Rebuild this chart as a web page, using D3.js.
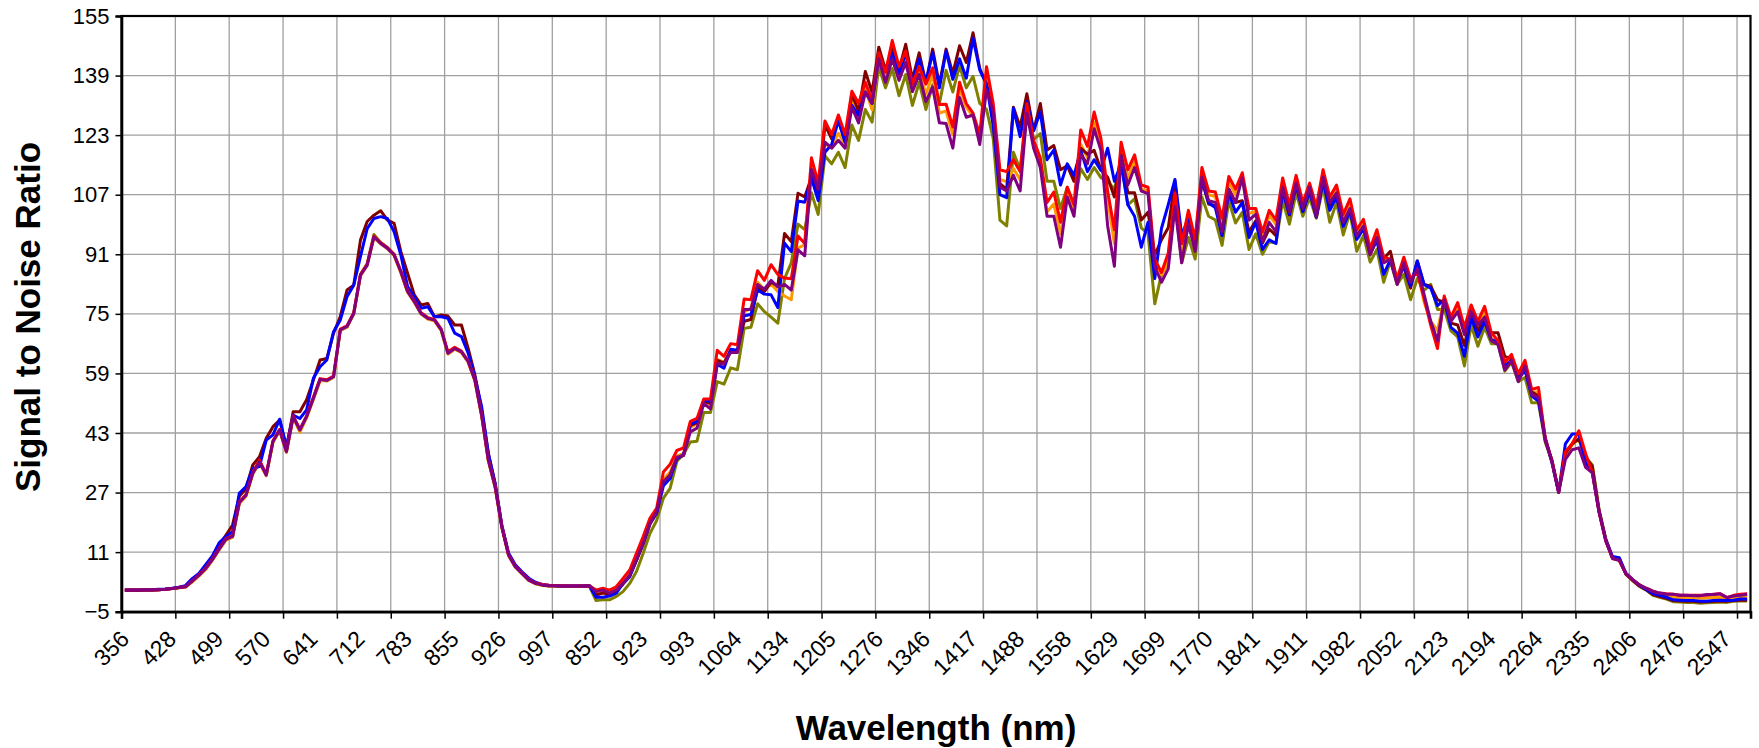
<!DOCTYPE html>
<html>
<head>
<meta charset="utf-8">
<script src="https://cdn.jsdelivr.net/npm/d3@7"></script>
<style>
  html, body { margin: 0; padding: 0; background: #fff; }
  svg { display: block; }
  text { font-family: "Liberation Sans", Arial, sans-serif; fill: #000; }
</style>
</head>
<body>
<svg id="chart" width="1759" height="748"></svg>
<script>
// ---------------- DATA ----------------
const bandCount = 242;           // Hyperion bands: 70 VNIR + 172 SWIR
const labelEvery = 7;            // a wavelength label every 7 bands
const gridEvery = 8;             // a tick / gridline every 8 bands
const tickLabels = ["356","428","499","570","641","712","783","855","926","997",
  "852","923","993","1064","1134","1205","1276","1346","1417","1488","1558","1629",
  "1699","1770","1841","1911","1982","2052","2123","2194","2264","2335","2406","2476","2547"];
const yTicks = [-5, 11, 27, 43, 59, 75, 91, 107, 123, 139, 155];

const olive = [0.8,0.8,0.8,0.8,0.8,0.9,1.0,1.2,1.4,1.6,3.0,4.6,6.4,8.9,11.7,14.3,15.1,24.2,26.2,32.1,
35.1,31.6,40.6,43.7,37.9,47.3,43.5,47.3,52.2,57.3,57.0,58.0,70.6,71.5,75.0,85.5,88.5,96.3,94.2,92.8,
90.9,86.2,80.9,78.2,75.0,73.7,73.2,70.6,64.3,65.6,64.7,62.1,57.1,47.7,35.6,28.5,17.7,10.1,7.0,5.2,
3.4,2.5,2.1,1.9,1.9,1.8,1.8,1.8,1.8,1.9,
-2.0,-1.8,-1.8,-0.9,0.4,2.6,5.8,10.7,16.0,19.5,
25.5,28.1,35.4,37.3,40.6,40.8,48.5,48.5,56.8,56.1,
60.5,60.0,71.1,71.4,77.7,75.6,74.1,72.5,84.5,88.7,
99.1,97.6,107.5,101.7,117.4,115.3,118.4,114.3,125.7,121.6,
129.9,126.5,141.4,135.7,140.9,133.6,139.3,131.0,137.2,129.9,
136.5,131.5,140.4,134.6,141.7,135.7,138.8,131.5,129.9,122.1,
100.2,98.6,118.4,113.7,128.4,121.8,123.4,110.6,110.6,103.3,
109.0,104.3,114.0,111.1,114.3,111.6,110.6,108.5,115.8,104.3,
105.9,98.1,96.5,77.7,85.6,88.7,105.3,88.7,95.5,89.7,
106.4,101.2,100.2,93.4,105.4,99.4,102.3,92.3,96.5,91.0,
94.4,94.0,105.4,99.1,107.5,101.2,106.2,100.7,109.0,99.6,
104.9,96.2,102.3,91.8,96.0,88.9,92.3,83.5,89.2,82.9,
85.6,78.8,84.5,81.3,82.9,76.2,76.2,70.4,68.8,61.0,
72.0,66.3,71.4,67.0,67.0,59.6,62.0,56.8,57.9,51.1,
51.1,40.6,35.4,27.3,37.0,40.2,41.2,36.5,34.4,22.5,
14.6,9.5,9.4,5.0,3.3,1.8,0.8,-0.6,-1.1,-1.6,
-2.3,-2.4,-2.5,-2.5,-2.7,-2.6,-2.5,-2.4,-2.5,-2.2,
-2.1,-2.1];

const orange = [0.8,0.8,0.8,0.8,0.8,0.9,1.0,1.2,1.4,1.6,3.0,4.6,6.4,8.8,11.6,14.2,15.0,24.0,26.0,32.0,
35.0,31.5,40.5,43.6,37.8,47.2,43.2,47.2,52.0,57.0,57.0,58.0,70.5,71.4,75.0,85.2,88.0,95.5,93.8,92.5,
90.6,86.0,80.8,78.1,75.0,73.6,73.1,70.5,64.2,65.5,64.6,62.0,57.0,47.6,35.5,28.4,17.7,10.1,7.0,5.2,
3.4,2.5,2.1,1.9,1.9,1.8,1.8,1.8,1.8,1.9,
0.0,0.5,0.2,1.0,2.8,5.0,9.0,13.5,18.8,22.0,
30.5,32.5,36.8,37.5,44.5,45.5,51.2,50.8,62.8,62.0,
65.0,64.8,75.5,76.5,83.5,81.5,83.0,81.0,79.8,78.8,
92.7,93.5,114.0,108.0,120.5,120.0,123.5,120.5,132.5,128.0,
135.5,129.8,144.5,139.0,146.6,140.0,144.0,136.0,140.0,134.0,
139.3,128.9,129.5,123.1,135.5,130.5,128.0,122.0,138.3,130.0,
111.1,110.5,114.0,111.0,130.0,120.5,116.0,102.4,104.5,96.5,
107.5,103.0,120.5,117.0,126.5,120.5,105.8,93.9,119.9,111.5,
116.0,108.5,108.0,88.5,85.5,89.0,106.0,91.5,101.0,93.0,
113.0,107.0,106.5,99.0,110.5,107.0,112.0,102.0,102.5,96.0,
101.5,99.0,110.5,103.5,111.0,104.0,109.5,102.5,112.5,105.5,
108.5,100.5,104.5,96.5,99.5,92.0,96.5,89.5,90.0,84.0,
89.5,84.0,87.0,78.2,73.0,70.5,79.0,73.5,76.5,70.0,
76.5,72.5,75.5,68.5,67.0,61.0,63.0,58.0,61.5,54.0,
54.0,41.5,35.4,27.1,37.0,39.8,41.5,36.0,33.0,21.9,
14.2,9.4,8.9,5.1,3.5,2.0,1.0,0.1,-0.4,-0.8,
-1.1,-1.2,-1.3,-1.3,-1.4,-1.3,-1.2,-1.1,-1.5,-1.2,
-1.0,-1.0];

const maroon = [0.7,0.7,0.7,0.8,0.8,0.9,1.0,1.2,1.5,1.8,3.5,5.0,7.0,9.6,12.8,15.5,18.3,26.0,28.1,34.4,
36.6,41.6,44.7,46.5,38.9,48.7,48.7,51.9,57.2,62.6,63.0,69.8,74.3,81.4,82.7,94.8,99.8,101.5,102.7,100.2,
99.3,91.7,85.9,80.1,77.4,77.8,74.2,74.7,74.4,72.0,72.0,65.7,58.6,49.2,37.5,29.5,18.0,10.5,7.3,5.4,
3.6,2.7,2.2,2.0,2.0,1.9,1.9,1.9,1.9,2.0,
-0.5,0.0,-0.3,0.5,2.4,4.6,8.8,13.2,18.5,21.5,
29.5,31.8,36.2,37.0,45.0,45.8,51.5,51.0,62.5,61.8,
65.2,65.0,73.0,73.5,82.0,81.0,83.5,82.5,96.6,94.4,
107.4,106.4,111.7,106.5,125.8,122.0,127.0,121.5,134.0,129.5,
140.1,134.5,146.6,140.5,146.0,140.5,147.4,138.0,145.1,137.0,
146.1,136.5,146.1,139.5,147.0,142.5,150.5,140.9,136.7,128.8,
110.0,108.5,130.5,125.2,134.1,124.2,131.5,119.0,120.2,113.7,
114.8,110.6,119.5,117.9,118.9,113.7,111.7,106.4,117.9,107.5,
107.5,100.2,102.3,90.8,94.9,98.1,110.6,93.9,101.8,92.5,
111.0,104.5,104.0,96.5,108.5,104.9,105.4,97.0,100.0,94.0,
97.8,96.0,108.5,101.5,109.5,102.5,108.0,101.0,111.0,104.0,
107.0,99.0,103.0,95.5,98.0,91.0,95.0,89.8,91.8,84.0,
87.6,81.9,89.2,82.9,82.4,78.8,78.0,72.5,72.0,66.5,
75.0,70.5,74.0,69.9,69.9,63.5,63.0,57.5,60.5,54.0,
53.0,41.0,35.8,27.2,37.5,40.0,41.5,36.5,34.0,22.2,
14.4,9.4,9.0,5.1,3.4,1.9,0.9,-0.4,-0.9,-1.4,
-2.0,-2.1,-2.2,-2.2,-2.4,-2.3,-2.2,-2.1,-2.2,-2.0,
-1.9,-1.9];

const blue = [0.8,0.8,0.8,0.9,0.9,1.0,1.1,1.3,1.6,2.0,3.9,5.3,7.6,10.0,13.5,15.2,16.5,26.8,28.6,33.5,
34.0,41.1,42.5,46.7,39.3,47.8,46.9,49.2,57.7,60.8,62.6,70.2,73.3,79.6,82.7,90.4,97.9,100.6,101.1,100.6,
97.0,90.8,82.3,79.6,76.5,76.9,74.2,74.2,73.8,69.8,68.9,64.4,58.1,50.1,37.5,29.5,18.2,10.8,7.6,5.7,
4.0,2.9,2.3,2.1,2.0,1.9,1.9,1.9,1.9,2.0,
-1.1,-1.1,-0.8,0.0,2.6,4.4,8.9,13.4,18.7,21.5,
28.8,30.8,36.0,37.2,45.3,46.2,51.8,51.5,61.5,60.4,
65.5,65.2,74.5,74.8,81.4,80.3,80.1,76.7,94.0,91.7,
105.3,105.0,111.5,105.4,118.4,120.5,126.9,121.0,131.0,128.3,
134.6,131.5,144.0,140.4,145.0,139.5,144.9,137.5,143.5,137.3,
145.2,135.7,145.6,138.0,143.5,138.3,149.0,140.5,136.7,125.5,
107.0,106.2,130.2,122.6,132.0,124.2,129.2,116.4,119.0,109.6,
115.3,112.2,118.9,113.2,116.4,113.5,119.5,110.6,115.3,104.3,
101.2,92.9,99.6,84.5,98.0,104.3,111.1,96.1,100.7,94.4,
111.1,104.9,103.5,96.0,107.5,102.3,104.9,95.5,99.6,92.3,
94.9,93.9,107.9,101.7,109.6,102.5,108.0,101.0,110.6,102.8,
106.5,98.5,102.5,95.0,97.8,91.3,94.8,85.6,89.5,83.5,
88.0,82.5,89.2,82.9,81.9,77.2,78.8,71.4,69.8,63.6,
74.1,68.8,73.0,68.0,67.5,61.0,62.5,57.5,59.8,53.0,
51.5,41.5,35.0,27.0,40.1,42.7,42.7,35.0,32.5,21.9,
14.3,9.8,9.5,5.3,3.6,2.1,1.0,-0.1,-0.6,-1.1,
-1.8,-1.9,-2.0,-2.0,-2.2,-2.2,-2.0,-1.9,-2.0,-1.9,
-1.6,-1.6];

const red = [0.8,0.8,0.8,0.8,0.8,0.9,1.0,1.2,1.5,1.7,3.3,4.9,6.7,9.2,12.0,14.6,15.4,24.5,26.5,32.4,
35.7,31.9,40.9,44.0,38.2,47.6,44.0,47.6,52.6,57.6,57.3,58.3,70.9,71.8,75.3,85.6,88.3,95.9,94.1,92.8,
91.0,86.5,81.2,78.5,75.3,74.0,73.5,70.9,64.8,66.0,65.0,62.4,57.4,48.0,35.9,28.8,18.0,10.3,7.2,5.4,
3.6,2.7,2.3,2.1,2.0,2.0,1.9,1.9,1.9,2.0,
0.8,1.3,0.8,1.7,3.9,6.2,10.7,15.2,20.1,22.8,
32.5,34.6,38.3,39.0,46.1,46.9,52.1,52.1,65.2,63.6,
67.0,66.7,79.0,78.8,86.6,84.0,88.2,85.6,84.6,84.4,
95.9,93.9,116.9,110.1,126.8,123.2,128.4,123.2,134.8,131.5,
137.2,132.3,145.1,139.9,148.4,141.4,145.6,136.7,141.4,136.7,
141.1,131.2,131.3,125.2,137.2,131.5,128.9,123.2,141.4,131.5,
113.7,113.2,116.4,113.2,131.5,121.6,116.9,104.9,107.7,99.6,
109.0,104.3,124.4,120.0,129.2,122.1,107.9,97.6,121.1,113.7,
117.7,109.6,109.0,89.7,86.1,91.3,107.5,93.9,102.8,95.0,
114.3,108.0,107.7,100.7,111.9,108.5,112.9,103.3,103.3,97.0,
102.8,100.2,111.5,104.3,112.2,104.9,110.1,103.8,113.7,106.4,
109.6,101.7,105.9,97.6,100.4,92.6,97.6,90.2,89.7,84.5,
90.2,84.5,86.1,79.3,71.9,65.7,79.8,74.1,78.0,71.4,
77.4,73.0,77.0,69.9,67.8,62.0,64.1,58.9,62.5,54.7,
55.2,41.7,35.4,27.1,38.0,40.1,43.6,37.5,32.3,21.8,
14.0,9.3,8.8,5.2,3.6,2.2,1.3,0.5,0.0,-0.2,
-0.3,-0.6,-0.6,-0.6,-0.6,-0.6,-0.3,-0.2,-1.2,-0.6,
-0.3,-0.2];

const purple = [0.8,0.8,0.8,0.8,0.8,0.9,1.0,1.2,1.5,1.7,3.2,4.8,6.6,9.0,11.8,14.4,15.2,24.3,26.3,32.2,
35.3,31.7,40.7,43.8,38.0,47.4,43.8,47.4,52.3,57.4,57.1,58.1,70.7,71.6,75.1,85.4,88.1,95.7,93.9,92.6,
90.8,86.3,81.0,78.3,75.1,73.8,73.3,70.7,64.4,65.7,64.8,62.2,57.2,47.8,35.7,28.6,17.8,10.2,7.1,5.3,
3.5,2.6,2.2,2.0,2.0,1.9,1.9,1.9,1.9,2.0,
0.4,0.8,0.0,0.8,2.6,4.8,8.9,13.4,18.7,21.9,
30.0,31.6,36.5,37.0,43.3,44.3,50.9,49.5,61.5,61.5,
64.6,64.6,76.2,76.2,82.9,81.6,84.0,82.2,82.9,81.4,
92.2,90.6,113.8,108.5,121.1,119.5,121.6,119.5,130.5,126.3,
134.6,131.6,143.5,137.2,143.5,137.7,142.5,134.7,139.3,132.0,
135.9,126.3,126.1,119.5,133.1,127.8,128.4,120.5,135.2,129.4,
109.0,108.0,112.2,108.0,128.9,119.5,114.3,101.2,101.2,92.9,
106.4,101.2,117.9,115.3,124.7,118.9,98.6,87.8,117.4,109.6,
114.3,108.0,107.3,87.6,83.5,87.1,103.8,88.7,99.1,91.8,
111.7,105.4,104.9,97.0,108.5,104.9,111.5,100.2,101.7,94.4,
99.6,97.0,109.0,102.3,110.1,103.3,109.0,101.2,111.7,104.9,
107.5,99.6,103.3,96.0,98.6,90.8,95.5,88.7,89.7,82.9,
88.7,83.5,87.1,80.3,73.0,67.8,78.8,73.0,75.6,69.4,
75.6,72.0,74.1,67.8,66.7,59.9,62.5,56.8,61.0,53.2,
52.6,41.7,35.4,27.1,35.9,38.5,39.0,33.8,32.3,21.8,
14.0,9.3,8.8,5.2,3.6,2.2,1.3,0.5,0.0,-0.3,
-0.3,-0.6,-0.6,-0.7,-0.7,-0.4,-0.4,-0.2,-1.2,-0.8,
-0.6,-0.3];

const seriesNames = ["olive", "orange", "maroon", "blue", "red", "purple"];
const seriesColors = ["#808000", "#FF9900", "#800000", "#0000FF", "#FF0000", "#800080"];
const seriesValues = [olive, orange, maroon, blue, red, purple];

// ---------------- LAYOUT ----------------
const svg = d3.select("#chart");
const L = 121.5, R = 1750.5, T = 16, B = 611.7;
const bands = d3.range(bandCount);

const x = d3.scaleBand().domain(bands).range([L, R]).paddingInner(0).paddingOuter(0);
const xb = d3.scaleLinear().domain([0, bandCount]).range([L, R]);   // band boundaries
const y = d3.scaleLinear().domain([-5, 155]).range([B, T]);
const cx = i => x(i) + x.bandwidth() / 2;

// gridlines
const grid = svg.append("g");
grid.selectAll("line.h").data(yTicks.slice(1, -1)).join("line")
  .attr("x1", L).attr("x2", R).attr("y1", d => y(d)).attr("y2", d => y(d))
  .attr("stroke", "#a0a0a0").attr("stroke-width", 1.3);
const vTicks = d3.range(gridEvery, bandCount, gridEvery);
grid.selectAll("line.v").data(vTicks).join("line")
  .attr("x1", d => xb(d)).attr("x2", d => xb(d)).attr("y1", T).attr("y2", B)
  .attr("stroke", "#a0a0a0").attr("stroke-width", 1.3);

// lines
const line = d3.line().x((d, i) => cx(i)).y(d => y(d));
svg.append("g").selectAll("path").data(seriesValues).join("path")
  .attr("d", d => line(d))
  .attr("fill", "none")
  .attr("stroke", (d, i) => seriesColors[i])
  .attr("stroke-width", 3)
  .attr("stroke-linejoin", "round");

// plot border
svg.append("rect").attr("x", L).attr("y", T).attr("width", R - L).attr("height", B - T)
  .attr("fill", "none").attr("stroke", "#000").attr("stroke-width", 2.2);

// y axis
const yAxis = svg.append("g").attr("transform", `translate(${L},0)`)
  .call(d3.axisLeft(y).tickValues(yTicks).tickSize(6).tickPadding(6).tickFormat(d3.format("d")));
yAxis.select(".domain").attr("stroke", "#000").attr("stroke-width", 2.6);
yAxis.selectAll(".tick line").attr("stroke", "#000").attr("stroke-width", 1.5);
yAxis.selectAll("text").style("font-size", "22px").attr("fill", "#000");

// x axis ticks (every 8 bands)
const xTickAxis = svg.append("g").attr("transform", `translate(0,${B})`)
  .call(d3.axisBottom(xb).tickValues(d3.range(0, bandCount, gridEvery)).tickSize(7).tickFormat(""));
xTickAxis.select(".domain").attr("stroke", "#000").attr("stroke-width", 2.6);
xTickAxis.selectAll(".tick line").attr("stroke", "#000").attr("stroke-width", 1.5);

// x labels (every 7 bands), rotated
const labelIdx = tickLabels.map((t, k) => k * labelEvery);
const xLabAxis = svg.append("g").attr("transform", `translate(0,${B})`)
  .call(d3.axisBottom(x).tickValues(labelIdx).tickSize(0)
    .tickFormat(i => tickLabels[i / labelEvery]));
xLabAxis.select(".domain").remove();
xLabAxis.selectAll("text")
  .style("font-size", "23px").attr("fill", "#000")
  .attr("text-anchor", "end")
  .attr("dy", null).attr("y", 0)
  .attr("transform", "translate(0,23) rotate(-45)")
  .attr("dominant-baseline", "central");

// axis titles
svg.append("text").attr("x", (L + R) / 2).attr("y", 740)
  .attr("text-anchor", "middle").style("font-size", "35px").style("font-weight", "bold")
  .text("Wavelength (nm)");
svg.append("text").attr("transform", `translate(40,317) rotate(-90)`)
  .attr("text-anchor", "middle").style("font-size", "35px").style("font-weight", "bold")
  .text("Signal to Noise Ratio");
</script>
</body>
</html>
